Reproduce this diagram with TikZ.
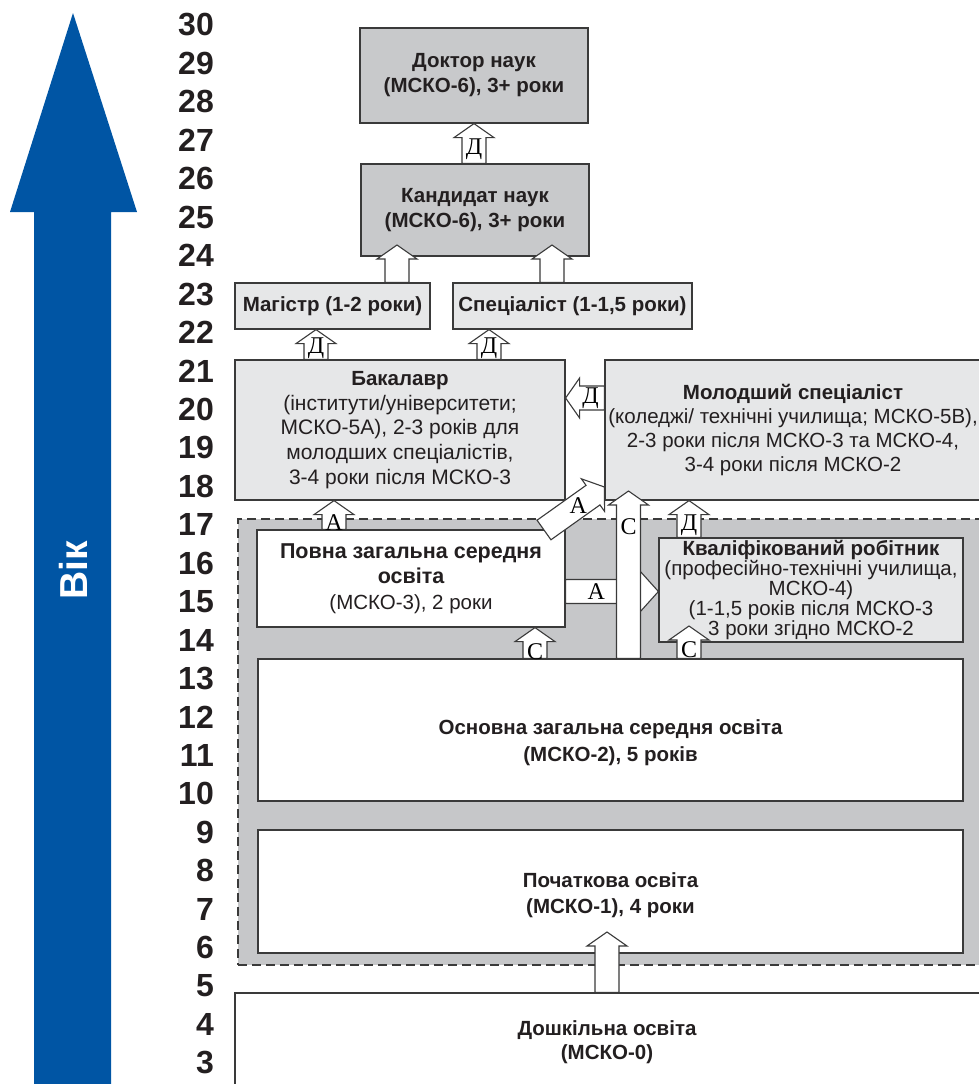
\documentclass[tikz,border=0pt]{standalone}
\usepackage{fontspec}
\setmainfont{Liberation Sans}
\newfontfamily\letterfont{Liberation Serif}
\usetikzlibrary{calc}
\definecolor{txt}{HTML}{231F20}
\definecolor{darkbox}{HTML}{C8C9CB}
\definecolor{lightbox}{HTML}{E6E7E8}
\definecolor{zonegray}{HTML}{C6C7C9}
\definecolor{edgecol}{HTML}{3A3A3A}
\definecolor{ageblue}{HTML}{0055A4}
\tikzset{
  box/.style={draw=edgecol, line width=1.2pt, align=center, inner sep=0pt, text=txt,
    font=\fontsize{20.5}{24.5}\selectfont},
  darkb/.style={box, fill=darkbox},
  lightb/.style={box, fill=lightbox},
  whiteb/.style={box, fill=white},
  zone/.style={draw=edgecol, fill=zonegray, line width=2.4pt, dash pattern=on 9pt off 5pt, inner sep=0pt},
  blockarrow/.style={draw=edgecol, fill=white, line width=1.1pt, line join=miter},
  arrowlabel/.style={font=\letterfont\fontsize{24}{24}\selectfont, text=black, inner sep=0pt},
  agenum/.style={anchor=east, font=\bfseries\fontsize{32}{32}\selectfont, text=txt, inner sep=0pt},
  plaintext/.style={align=center, text=txt, inner sep=0pt, font=\fontsize{20.5}{26}\selectfont}
}
% block arrow: [head length]{tail}{tip}{label}{label distance from tip}
\newcommand\barrow[5][14]{%
  \coordinate (bT) at #2;
  \coordinate (bP) at #3;
  \coordinate (bH) at ($(bP)!#1pt!(bT)$);
  \draw[blockarrow] ($(bT)!12pt!90:(bP)$) -- ($(bH)!12pt!90:(bP)$) -- ($(bH)!20pt!90:(bP)$)
    -- (bP) -- ($(bH)!20pt!-90:(bP)$) -- ($(bH)!12pt!-90:(bP)$) -- ($(bT)!12pt!-90:(bP)$) -- cycle;
  \node[arrowlabel] at ($(bP)!#5pt!(bT)$) {#4};
}
\begin{document}
\begin{tikzpicture}[x=1pt,y=-1pt]
\useasboundingbox (0,0) rectangle (979,1084);
\clip (0,0) rectangle (979,1084);

% age arrow
\fill[ageblue] (34,1090) -- (34,212) -- (10,212) -- (73,13) -- (137,212) -- (111,212) -- (111,1090) -- cycle;
\node[rotate=90, text=white, font=\bfseries\fontsize{39}{39}\selectfont, inner sep=0pt] (vik) at (73,570) {Вік};

% age numbers
\foreach \n in {3,...,30} {
  \node[agenum] (age\n) at (214, {25+(30-\n)*38.44}) {\n};
}

% grey dashed zone
\node[zone, minimum width=752, minimum height=446] (zone) at (614,742) {};

% boxes
\node[darkb, minimum width=228, minimum height=95, font=\fontsize{20.5}{25}\selectfont] (dokt) at (474,75.5)
  {\bfseries Доктор наук\\\bfseries (МСКО-6), 3+ роки};
\node[darkb, minimum width=228, minimum height=92, font=\fontsize{20.5}{25}\selectfont] (kand) at (475,210)
  {\bfseries Кандидат наук\\\bfseries (МСКО-6), 3+ роки};
\node[lightb, minimum width=195, minimum height=46] (mag) at (332.5,306)
  {\bfseries Магістр (1-2 роки)};
\node[lightb, minimum width=239, minimum height=46] (spec) at (572.5,306)
  {\bfseries Спеціаліст (1-1,5 роки)};
\node[lightb, minimum width=330, minimum height=140, font=\fontsize{21}{24.75}\selectfont] (bak) at (400,430)
  {\bfseries\fontsize{20.5}{24.75}\selectfont Бакалавр\\(інститути/університети;\\МСКО-5А), 2-3 років для\\молодших спеціалістів,\\3-4 роки після МСКО-3};
\node[lightb, minimum width=376, minimum height=140, font=\fontsize{20.5}{24.3}\selectfont] (mol) at (793,430)
  {\bfseries Молодший спеціаліст\\(коледжі/ технічні училища; МСКО-5В),\\2-3 роки після МСКО-3 та МСКО-4,\\3-4 роки після МСКО-2};
\node[whiteb, minimum width=308, minimum height=97, font=\fontsize{20.5}{25.5}\selectfont] (povna) at (411,578.5)
  {\bfseries\fontsize{21.5}{25.5}\selectfont Повна загальна середня\\\bfseries\fontsize{21.5}{25.5}\selectfont освіта\\(МСКО-3), 2 роки};
\node[lightb, minimum width=304, minimum height=104, font=\fontsize{20.5}{19}\selectfont] (kval) at (811,590)
  {\bfseries Кваліфікований робітник\\(професійно-технічні училища,\\МСКО-4)\\(1-1,5 років після МСКО-3\\3 роки згідно МСКО-2};
\node[whiteb, minimum width=705, minimum height=142] (osn) at (610.5,730) {};
\node[plaintext, font=\bfseries\fontsize{20.5}{27}\selectfont] (osnT) at (610.5,742.5)
  {Основна загальна середня освіта\\(МСКО-2), 5 років};
\node[whiteb, minimum width=705, minimum height=123] (poch) at (610.5,891.5) {};
\node[plaintext, font=\bfseries\fontsize{20.5}{26}\selectfont] (pochT) at (610.5,895)
  {Початкова освіта\\(МСКО-1), 4 роки};
\node[whiteb, minimum width=746, minimum height=100] (dosh) at (608,1043) {};
\node[plaintext, font=\bfseries\fontsize{20.5}{24}\selectfont] (doshT) at (607,1042)
  {Дошкільна освіта\\(МСКО-0)};

% connectors (block arrows)
\barrow{(474,0 |- kand.north)}{(474,0 |- dokt.south)}{Д}{26}
\barrow{(397,0 |- mag.north)}{(397,245)}{}{20}
\barrow{(552,0 |- spec.north)}{(552,245)}{}{20}
\barrow{(316,0 |- bak.north)}{(316,0 |- mag.south)}{Д}{19}
\barrow{(489,0 |- bak.north)}{(489,0 |- spec.south)}{Д}{19}
\barrow{(mol.west |- 0,398)}{(bak.east |- 0,398)}{Д}{25}
\barrow{(334,0 |- povna.north)}{(334,0 |- bak.south)}{А}{22}
\barrow{(544,530)}{(mol.west |- 0,487)}{А}{32}
\barrow[18]{(povna.east |- 0,591.5)}{(kval.west |- 0,591.5)}{А}{62}
\barrow{(628.5,0 |- osn.north)}{(628.5,491)}{С}{36}
\barrow{(689,0 |- kval.north)}{(689,0 |- mol.south)}{Д}{25}
\barrow{(535,0 |- osn.north)}{(535,0 |- povna.south)}{С}{24}
\barrow{(689,0 |- osn.north)}{(689,626)}{С}{24}
\barrow{(607,0 |- dosh.north)}{(607,932)}{}{20}
\end{tikzpicture}
\end{document}
